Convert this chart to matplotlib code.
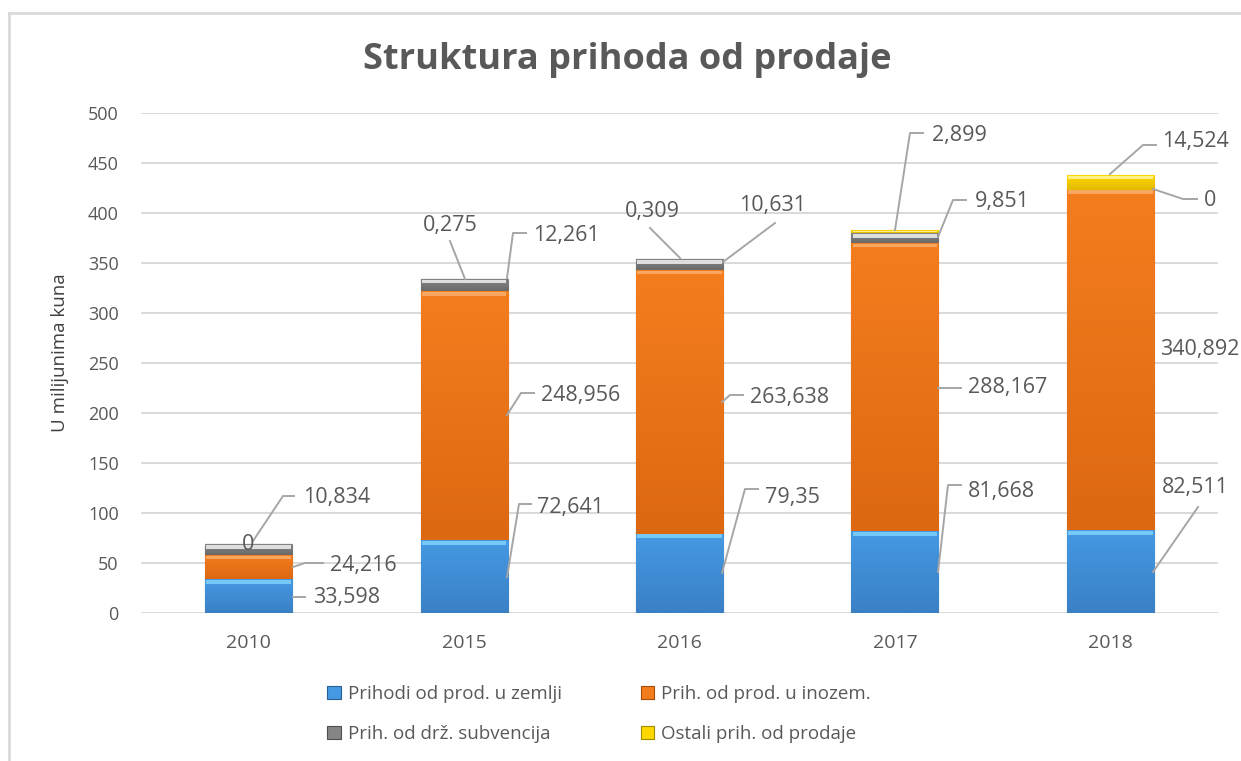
import numpy as np
import matplotlib.pyplot as plt
from matplotlib.colors import LinearSegmentedColormap
from matplotlib.patches import Patch
from matplotlib.lines import Line2D

plt.rcParams['font.family'] = ['Open Sans', 'DejaVu Sans']

years = ["2010", "2015", "2016", "2017", "2018"]
series_names = ["Prihodi od prod. u zemlji", "Prih. od prod. u inozem.",
                "Prih. od drž. subvencija", "Ostali prih. od prodaje"]
domestic = [33.598, 72.641, 79.35, 81.668, 82.511]
foreign = [24.216, 248.956, 263.638, 288.167, 340.892]
subsidies = [10.834, 12.261, 10.631, 9.851, 0]
other = [0, 0.275, 0.309, 2.899, 14.524]

# style per series: (top, bottom, highlight, edge)
styles = [
    ("#4599e2", "#3a80c6", "#80d2fb", "#2a5f96"),
    ("#f47d1e", "#dc6812", "#fbae6c", "#a84c0a"),
    ("#858585", "#6a6a6a", "#f0f0f0", "#4f4f4f"),
    ("#ffd800", "#e2bb00", "#fff59a", "#a08a00"),
]

# label layout in figure pixels: text x, text y, ha, leader polyline
label_layout = [
    [(313, 597, "left", [(293, 597), (305, 597)]),
     (537, 507, "left", [(507, 577), (519, 504), (531, 504)]),
     (765, 497, "left", [(722, 573), (745, 489), (758, 489)]),
     (968, 491, "left", [(938, 572), (948, 485), (961, 485)]),
     (1162, 488, "left", [(1153, 572), (1198, 507)])],
    [(330, 566, "left", [(293, 567), (305, 563), (323, 563)]),
     (541, 395, "left", [(507, 415), (521, 393), (534, 393)]),
     (750, 397, "left", [(722, 402), (730, 395), (743, 395)]),
     (968, 388, "left", [(938, 388), (961, 388)]),
     (1160, 350, "left", [])],
    [(303, 497, "left", [(253, 541), (283, 496), (294, 496)]),
     (533, 235, "left", [(507, 278), (513, 233), (526, 233)]),
     (739, 206, "left", [(723, 262), (775, 223)]),
     (975, 202, "left", [(938, 237), (953, 200), (966, 200)]),
     (1204, 201, "left", [(1153, 189), (1183, 199), (1197, 199)])],
    [(248, 545, "center", []),
     (450, 225, "center", [(465, 279), (450, 241)]),
     (652, 212, "center", [(680, 258), (650, 228)]),
     (932, 135, "left", [(895, 230), (910, 133), (923, 133)]),
     (1162, 142, "left", [(1110, 174), (1143, 145), (1156, 145)])],
]

W, H = 1241, 761
fig = plt.figure(figsize=(W / 100, H / 100), dpi=100)
ax = fig.add_axes([141 / W, 1 - 613 / H, (1218 - 141) / W, 500 / H])

data = [domestic, foreign, subsidies, other]
x = np.arange(len(years))
width = 0.404
bottom = np.zeros(len(years))
for vals, st in zip(data, styles):
    vals = np.array(vals, dtype=float)
    bars = ax.bar(x, vals, width, bottom=bottom, color=st[0], edgecolor=st[3],
                  linewidth=0.8, zorder=3)
    cmap = LinearSegmentedColormap.from_list("g", [st[0], st[1]])
    grad = np.linspace(0, 1, 64).reshape(-1, 1)
    for p in bars.patches:
        if p.get_height() <= 0:
            continue
        x0, y0 = p.get_x(), p.get_y()
        im = ax.imshow(grad, cmap=cmap, extent=(x0, x0 + p.get_width(), y0, y0 + p.get_height()),
                       aspect="auto", origin="upper", zorder=3.1, interpolation="bilinear")
        im.set_clip_path(p)
    hl = np.minimum(3.5, vals * 0.35)
    ax.bar(x, hl, width * 0.97, bottom=bottom + vals - hl - 0.8, color=st[2],
           linewidth=0, zorder=3.2, alpha=0.85)
    bottom += vals

ax.set_xlim(-0.5, len(years) - 0.5)
ax.set_ylim(0, 500)
ax.set_yticks(np.arange(0, 501, 50))
ax.set_xticks(x)
ax.set_xticklabels(years)
ax.grid(axis="y", color="#d9d9d9", linewidth=1.4, zorder=0)
ax.set_axisbelow(True)
for s in ax.spines.values():
    s.set_visible(False)
ax.tick_params(length=0, labelsize=13, labelcolor="#595959")
ax.tick_params(axis="y", pad=16)
ax.tick_params(axis="x", pad=15, labelsize=14)

inv = ax.transData.inverted()


def px2data(px, py):
    return inv.transform((px, H - py))


for s, vals in enumerate(data):
    for i, v in enumerate(vals):
        tx, ty, ha, pts = label_layout[s][i]
        if pts:
            arr = np.array([px2data(a, b) for a, b in pts])
            ax.plot(arr[:, 0], arr[:, 1], color="#a6a6a6", linewidth=1.4,
                    zorder=4, clip_on=False)
        dx, dy = px2data(tx, ty)
        ax.text(dx, dy, f"{v:g}".replace(".", ","), ha=ha, va="center",
                fontsize=15.5, color="#595959", zorder=5, clip_on=False)

fig.text(627 / W, 1 - 60 / H, "Struktura prihoda od prodaje", ha="center", va="center",
         fontsize=26, fontweight="bold", color="#595959")
fig.text(60 / W, 1 - 353 / H, "U milijunima kuna", ha="center", va="center",
         rotation=90, fontsize=13.5, color="#404040")

handles = [Patch(facecolor=st[0], edgecolor=st[3], linewidth=0.8) for st in styles]
order = [0, 2, 1, 3]
fig.legend([handles[k] for k in order], [series_names[k] for k in order], ncol=2,
           loc="upper left", bbox_to_anchor=(318 / W, 1 - 676 / H), frameon=False,
           borderpad=0, handlelength=0.7, handleheight=0.7, handletextpad=0.4,
           columnspacing=4.2, labelspacing=1.15, fontsize=13.5, labelcolor="#595959")

# chart frame
fig.add_artist(Line2D([9 / W, 9 / W], [0, 1 - 13 / H], color="#d9d9d9", linewidth=2))
fig.add_artist(Line2D([9 / W, 1], [1 - 13 / H, 1 - 13 / H], color="#d9d9d9", linewidth=2))

fig.savefig("out.png", dpi=100)
